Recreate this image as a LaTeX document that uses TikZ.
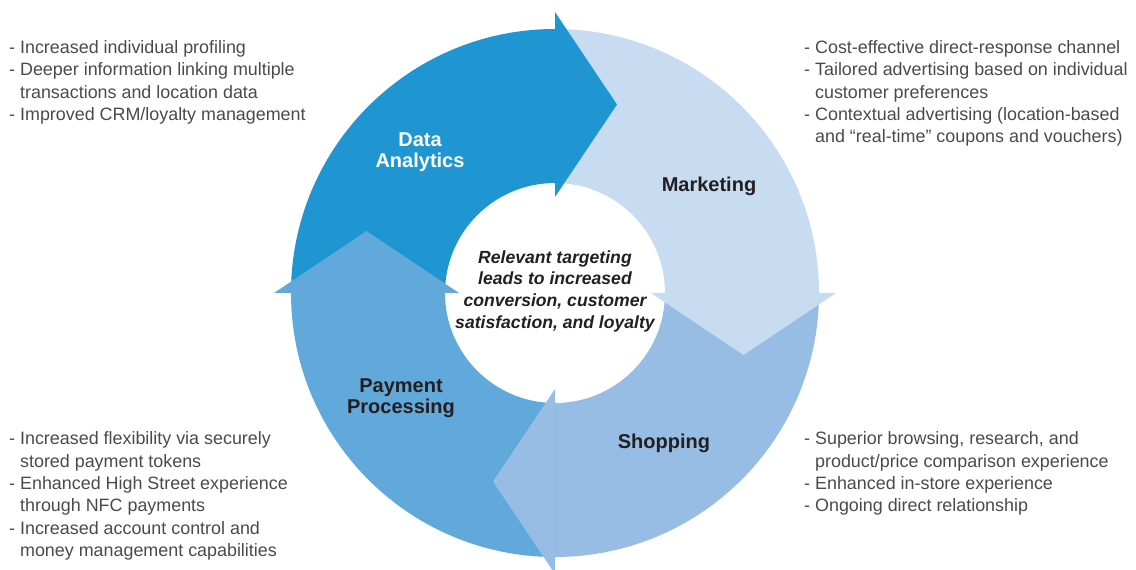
\documentclass[tikz,border=0pt]{standalone}
\usepackage{fontspec}
\setmainfont{Liberation Sans}
\definecolor{dacol}{HTML}{1F95D2}
\definecolor{mkcol}{HTML}{C7DCF1}
\definecolor{shcol}{HTML}{98BDE4}
\definecolor{ppcol}{HTML}{62A9DB}
\definecolor{labeldark}{HTML}{231F20}
\definecolor{bodygray}{HTML}{4A4A4A}
\begin{document}
\begin{tikzpicture}[x=1pt,y=1pt,
  body/.style={anchor=base west, align=left, inner sep=0pt, text=bodygray,
    font=\fontsize{17.9}{22.3}\selectfont},
  stage/.style={anchor=base, align=center, inner sep=0pt, text=labeldark,
    font=\fontsize{20}{21}\selectfont\bfseries},
  hub/.style={anchor=base, align=center, inner sep=0pt, text=labeldark,
    font=\fontsize{17.6}{21.8}\selectfont\bfseries\itshape},
]
\clip (0,0) rectangle (1136,570);

% cycle ring: four quarter bands, then the arrowheads on top
\begin{scope}[shift={(555,277)}]
  \fill[dacol] (180:264) arc[start angle=180, end angle=90, radius=264]
    -- (90:110) arc[start angle=90, end angle=180, radius=110] -- cycle;
  \fill[mkcol] (90:264) arc[start angle=90, end angle=0, radius=264]
    -- (0:110) arc[start angle=0, end angle=90, radius=110] -- cycle;
  \fill[shcol] (0:264) arc[start angle=0, end angle=-90, radius=264]
    -- (-90:110) arc[start angle=-90, end angle=0, radius=110] -- cycle;
  \fill[ppcol] (-90:264) arc[start angle=-90, end angle=-180, radius=264]
    -- (-180:110) arc[start angle=-180, end angle=-90, radius=110] -- cycle;

  \fill[dacol] (90:96) -- (90:281) -- (71.8:198.4) -- cycle;
  \fill[mkcol] (0:96) -- (0:281) -- (-18.2:198.4) -- cycle;
  \fill[shcol] (-90:96) -- (-90:281) -- (-108.2:198.4) -- cycle;
  \fill[ppcol] (180:96) -- (180:281) -- (161.8:198.4) -- cycle;
\end{scope}

% stage labels (a multi-line node sits on the baseline of its last line)
\node[stage, text=white] (da) at (420,402) {Data\\Analytics};
\node[stage] (mk) at (709,378) {Marketing};
\node[stage] (sh) at (664,121) {Shopping};
\node[stage] (pp) at (401,156) {Payment\\Processing};

% centre statement
\node[hub] (hubtext) at (555,241.5) {Relevant targeting\\leads to increased\\conversion, customer\\satisfaction, and loyalty};

% benefit lists
\node[body] (datalist) at (9,449.6) {- Increased individual profiling\\
- Deeper information linking multiple\\
\phantom{- }transactions and location data\\
- Improved CRM/loyalty management};

\node[body] (marketlist) at (804,427.3) {- Cost-effective direct-response channel\\
- Tailored advertising based on individual\\
\phantom{- }customer preferences\\
- Contextual advertising (location-based\\
\phantom{- }and “real-time” coupons and vouchers)};

\node[body] (paylist) at (9,13.5) {- Increased flexibility via securely\\
\phantom{- }stored payment tokens\\
- Enhanced High Street experience\\
\phantom{- }through NFC payments\\
- Increased account control and\\
\phantom{- }money management capabilities};

\node[body] (shoplist) at (804,58.1) {- Superior browsing, research, and\\
\phantom{- }product/price comparison experience\\
- Enhanced in-store experience\\
- Ongoing direct relationship};
\end{tikzpicture}
\end{document}
